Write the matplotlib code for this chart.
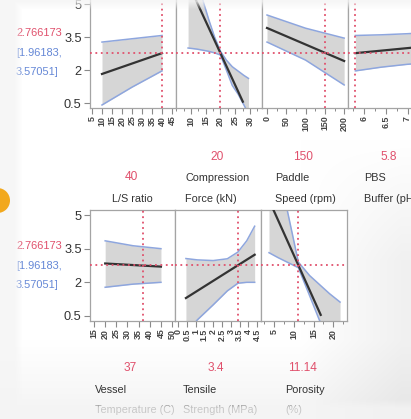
import numpy as np
import matplotlib
matplotlib.use("Agg")
import matplotlib.pyplot as plt
from matplotlib.patches import Circle
from matplotlib.ticker import FixedLocator, MultipleLocator, FormatStrFormatter

W, H = 411, 419

# prediction at the current factor settings
pred = 2.766173
ci_lo_text = "[1.96183,"
ci_hi_text = "3.57051]"

# --- top row profiles ---
ls_cur = 40
ls_band_x = [10, 25, 40]
ls_upper = [3.27, 3.42, 3.57]
ls_lower = [0.41, 1.22, 1.96]
ls_line_x = [10, 40]
ls_line_y = [1.82, 2.766]

force_cur = 20
force_band_x = [9, 12, 14, 16, 18, 20, 22, 24, 26, 28, 29.5]
force_upper = [7.0, 6.0, 5.18, 4.3, 3.5, 2.85, 2.45, 2.15, 1.95, 1.75, 1.62]
force_lower = [3.0, 2.95, 2.9, 2.85, 2.78, 2.68, 2.0, 1.3, 0.9, 0.4, 0.0]
force_line_x = [9, 27.6]
force_line_y = [5.95, 0.56]

speed_cur = 150
speed_band_x = [0, 100, 200]
speed_upper = [4.5, 3.9, 3.45]
speed_lower = [3.27, 2.45, 1.32]
speed_line_x = [0, 200]
speed_line_y = [3.91, 2.41]

ph_cur = 5.8
ph_band_x = [5.8, 6.4, 7.0, 7.6]
ph_upper = [3.57, 3.6, 3.65, 3.72]
ph_lower = [1.96, 2.13, 2.26, 2.35]
ph_line_x = [5.8, 7.6]
ph_line_y = [2.766, 3.11]

# --- bottom row profiles ---
temp_cur = 37
temp_band_x = [20, 32.5, 45]
temp_upper = [3.85, 3.63, 3.5]
temp_lower = [1.78, 1.92, 2.0]
temp_line_x = [20, 45]
temp_line_y = [2.84, 2.70]

tens_cur = 3.4
tens_band_x = [0.45, 1.1, 2.0, 2.8, 3.4, 3.9, 4.35]
tens_upper = [3.06, 3.0, 2.97, 3.05, 3.35, 3.85, 4.5]
tens_lower = [-0.3, 0.33, 1.0, 1.62, 1.96, 2.0, 2.0]
tens_line_x = [0.45, 4.35]
tens_line_y = [1.3, 3.23]

por_cur = 11.14
por_band_x = [3.7, 6, 8.3, 11.14, 14, 16.5, 19, 21.7]
por_upper = [7.0, 6.2, 5.23, 2.9, 2.3, 1.9, 1.5, 1.12]
por_lower = [3.32, 3.1, 2.9, 2.65, 1.4, 0.3, -0.5, -1.5]
por_line_x = [4, 16.8]
por_line_y = [5.55, 0.55]

FONT = "Liberation Sans"
RED = "#e0506c"
BLUE = "#6487d6"
TXT = "#333333"
FRAME = "#a4a4a4"

fig = plt.figure(figsize=(W / 100, H / 100), dpi=100)
fig.patch.set_facecolor("white")

# page background, slightly greyer toward the lower right
bg = fig.add_axes([0, 0, 1, 1], zorder=-5)
yy, xx = np.mgrid[0:H, 0:W]
shade = 0.055 * np.clip((xx - 300) / 100, 0, 1) * np.clip((yy - 140) / 120, 0, 1)
shade += 0.035 * np.clip((yy - 340) / 60, 0, 1)
bg.imshow(np.dstack([1 - shade] * 3), extent=(0, W, H, 0), aspect="auto")
bg.set_xlim(0, W)
bg.set_ylim(H, 0)
bg.axis("off")


def px_axes(x0, x1, y0, y1):
    return fig.add_axes([x0 / W, 1 - y1 / H, (x1 - x0) / W, (y1 - y0) / H])


def profile(ax, xlim, ylim, major, minor, cur, bx, up, lo, lx, ly, first):
    ax.set_facecolor("white")
    ax.set_xlim(*xlim)
    ax.set_ylim(*ylim)
    ax.fill_between(bx, lo, up, color="#d6d6d6", lw=0, zorder=1)
    ax.plot(bx, up, color="#8ea6de", lw=1.1, zorder=2)
    ax.plot(bx, lo, color="#8ea6de", lw=1.1, zorder=2)
    ax.plot(lx, ly, color="#333333", lw=1.6, zorder=3)
    ax.axvline(cur, color=RED, lw=1.3, ls=(0, (1, 2)), zorder=4)
    ax.axhline(pred, color=RED, lw=1.3, ls=(0, (1, 2)), zorder=4)
    for s in ax.spines.values():
        s.set_color(FRAME)
        s.set_linewidth(0.9)
    ax.xaxis.set_major_locator(FixedLocator(major))
    if minor:
        ax.xaxis.set_minor_locator(MultipleLocator(minor))
    ax.xaxis.set_major_formatter(FormatStrFormatter("%g"))
    ax.tick_params(axis="x", which="major", length=4, width=0.8, color="#8a8a8a",
                   pad=1.5, labelrotation=90, labelsize=6.4, labelcolor="#444444")
    ax.tick_params(axis="x", which="minor", length=2.5, width=0.7, color="#8a8a8a")
    for lab in ax.get_xticklabels():
        lab.set_fontfamily(FONT)
        lab.set_fontweight("bold")
    if first:
        ax.yaxis.set_major_locator(FixedLocator([0.5, 2, 3.5, 5]))
        ax.yaxis.set_major_formatter(FormatStrFormatter("%g"))
        ax.tick_params(axis="y", length=4, width=0.8, color="#8a8a8a", pad=2,
                       labelsize=9.2, labelcolor="#333333")
        for lab in ax.get_yticklabels():
            lab.set_fontfamily(FONT)
    else:
        ax.set_yticks([])


# top row
top_y = (-6, 108)
top_lim = (0.273, 5.455)
top_panels = [
    ((90, 176), (4, 47), np.arange(5, 46, 5), None, ls_cur, ls_band_x, ls_upper, ls_lower, ls_line_x, ls_line_y),
    ((176, 262), (4.9, 34.1), [10, 15, 20, 25, 30], 2.5, force_cur, force_band_x, force_upper, force_lower, force_line_x, force_line_y),
    ((262, 348), (-13, 210), [0, 50, 100, 150, 200], 25, speed_cur, speed_band_x, speed_upper, speed_lower, speed_line_x, speed_line_y),
    ((348, 434), (5.63, 7.61), [6, 6.5, 7, 7.5], 0.25, ph_cur, ph_band_x, ph_upper, ph_lower, ph_line_x, ph_line_y),
]
for i, (xs, xlim, major, minor, cur, bx, up, lo, lx, ly) in enumerate(top_panels):
    ax = px_axes(xs[0], xs[1], *top_y)
    profile(ax, xlim, top_lim, major, minor, cur, bx, up, lo, lx, ly, i == 0)

# bottom row
bot_y = (210, 321)
bot_lim = (0.277, 5.223)
bot_panels = [
    ((90, 175), (13.2, 51.3), np.arange(15, 51, 5), None, temp_cur, temp_band_x, temp_upper, temp_lower, temp_line_x, temp_line_y),
    ((175, 261), (-0.17, 4.71), np.arange(0, 4.6, 0.5), None, tens_cur, tens_band_x, tens_upper, tens_lower, tens_line_x, tens_line_y),
    ((261, 347), (1.67, 23.46), [5, 10, 15, 20], 2.5, por_cur, por_band_x, por_upper, por_lower, por_line_x, por_line_y),
]
for i, (xs, xlim, major, minor, cur, bx, up, lo, lx, ly) in enumerate(bot_panels):
    ax = px_axes(xs[0], xs[1], *bot_y)
    profile(ax, xlim, bot_lim, major, minor, cur, bx, up, lo, lx, ly, i == 0)

# labels in pixel coordinates
lab = fig.add_axes([0, 0, 1, 1], zorder=5)
lab.set_xlim(0, W)
lab.set_ylim(H, 0)
lab.axis("off")
lab.patch.set_alpha(0)

for y0 in (33, 246):
    lab.text(16, y0, f"{pred:.6f}", color=RED, fontsize=7.9, family=FONT, va="center")
    lab.text(16, y0 + 20, ci_lo_text, color=BLUE, fontsize=7.9, family=FONT, va="center")
    lab.text(16, y0 + 39, ci_hi_text, color=BLUE, fontsize=7.9, family=FONT, va="center")

top_names = [("L/S ratio",), ("Compression", "Force (kN)"), ("Paddle", "Speed (rpm)"), ("PBS", "Buffer (pH)")]
top_cur = [ls_cur, force_cur, speed_cur, ph_cur]
top_left = [112, 185, 275, 364]
for (xs, *_), nm, cur, x_left in zip(top_panels, top_names, top_cur, top_left):
    cx = (xs[0] + xs[1]) / 2 - 2
    vy = 177 if len(nm) == 1 else 157
    lab.text(cx, vy, f"{cur:g}", color=RED, fontsize=8.6, family=FONT, ha="center", va="center")
    for k, line in enumerate(nm):
        ly = 199 - 21 * (len(nm) - 1 - k)
        lab.text(x_left, ly, line, color=TXT, fontsize=7.8, family=FONT, va="center")

bot_names = [("Vessel", "Temperature (C)"), ("Tensile", "Strength (MPa)"), ("Porosity", "(%)")]
bot_cur = [temp_cur, tens_cur, por_cur]
bot_left = [95, 183, 285]
for (xs, *_), nm, cur, x_left in zip(bot_panels, bot_names, bot_cur, bot_left):
    cx = (xs[0] + xs[1]) / 2 - 2
    lab.text(cx, 368, f"{cur:g}", color=RED, fontsize=8.6, family=FONT, ha="center", va="center")
    lab.text(x_left, 390, nm[0], color=TXT, fontsize=7.8, family=FONT, va="center")
    lab.text(x_left, 410, nm[1], color=TXT, fontsize=7.8, family=FONT, va="center")

# soft fade along the edges
haze = fig.add_axes([0, 0, 1, 1], zorder=8)
alpha = np.clip((yy - 398) / 12, 0, 0.78)
alpha = np.maximum(alpha, np.clip((22 - xx) / 10, 0, 0.75))
alpha = np.maximum(alpha, np.clip((10 - yy) / 10, 0, 0.8))
rgba = np.dstack([np.full_like(alpha, 0.96)] * 3 + [alpha])
haze.imshow(rgba, extent=(0, W, H, 0), aspect="auto")
haze.set_xlim(0, W)
haze.set_ylim(H, 0)
haze.axis("off")
haze.add_patch(Circle((-2.5, 200.5), 12.5, color="#f2a81d", lw=0))

fig.savefig("out.png", dpi=100)
